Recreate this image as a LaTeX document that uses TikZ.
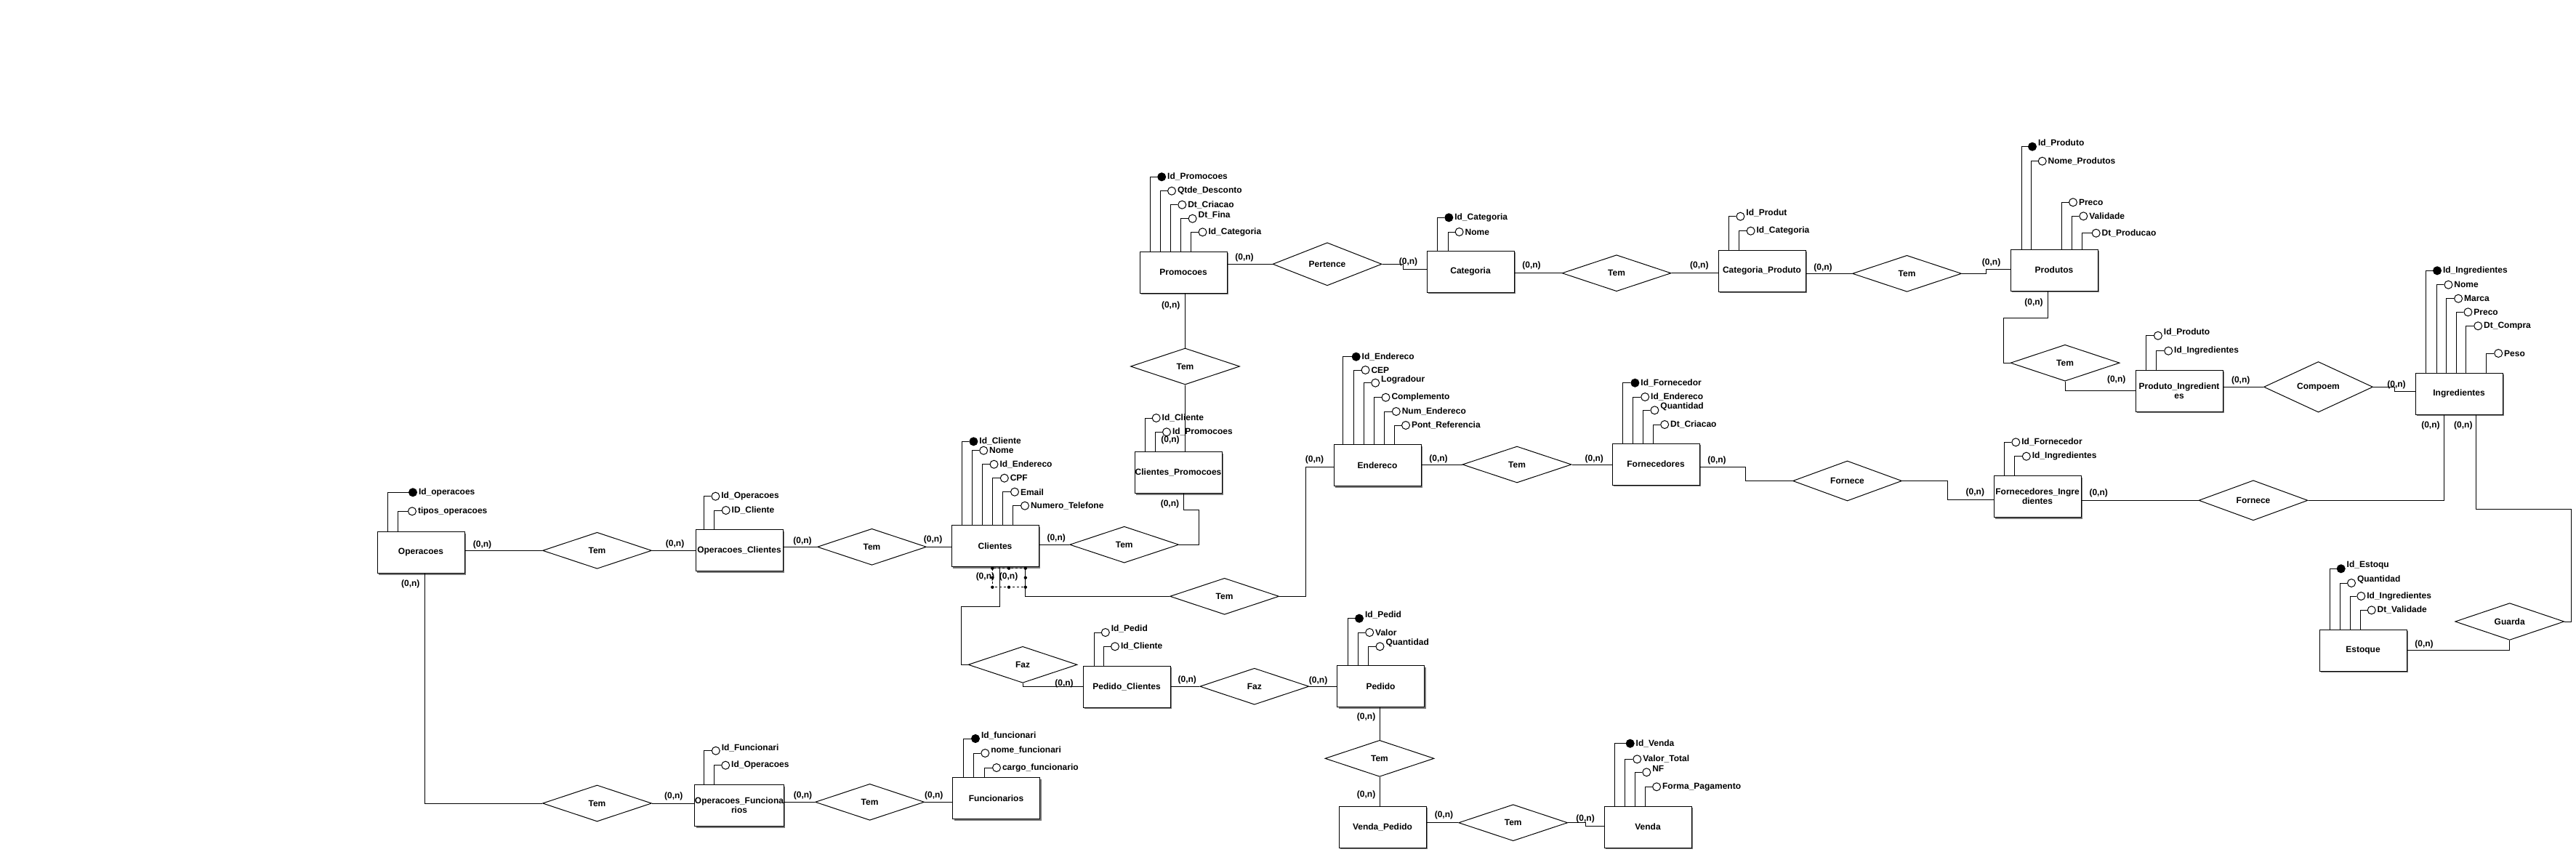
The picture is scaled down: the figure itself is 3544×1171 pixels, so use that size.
\documentclass[tikz,border=0pt]{standalone}
\usepackage{fontspec}
\setmainfont{Liberation Sans}
\usepackage{tikz}
\usetikzlibrary{shapes.geometric,shadows}
\definecolor{sombra}{RGB}{120,120,120}
\newcommand{\fonte}{\fontsize{12}{13}\selectfont\bfseries}
% atributo: [opcoes do rotulo]{estilo}{entidade}{nr}{x linha}{x circulo}{y}{texto}
\newcommand{\atributo}[8][]{%
  \node[#2] (#3#4) at (#6,#7) {};
  \node[rotulo,#1] (#3#4t) at (#3#4.east) {#8};
  \coordinate (#3#4x) at (#5,0);
  \draw (#3#4.west) -| (#3#4x |- #3.north);
}
\tikzset{
  entidade/.style={draw, fill=white, line width=1pt, minimum width=120pt, minimum height=57pt,
    inner sep=0pt, align=center, font=\fonte,
    drop shadow={shadow xshift=2pt, shadow yshift=-2pt, fill=sombra, opacity=1}},
  relacao/.style={diamond, draw, minimum width=150pt, minimum height=50pt, inner sep=0pt, font=\fonte},
  atr/.style={circle, draw, fill=white, minimum size=11pt, inner sep=0pt},
  chave/.style={atr, fill=black},
  rotulo/.style={anchor=west, inner sep=1.5pt, font=\fonte},
  card/.style={inner sep=0pt, font=\fonte}
}

\begin{document}
\begin{tikzpicture}[x=1pt, y=-1pt, line width=1pt]
    % Fundo
    \fill[white] (0,0) rectangle (3544,1171);
    \useasboundingbox (0,0) rectangle (3544,1171);

    % Entidades
    \node[entidade] (operacoes) at (579,760) {Operacoes};
    \node[entidade] (opclientes) at (1017,757) {Operacoes\_Clientes};
    \node[entidade] (opfunc) at (1017,1108) {Operacoes\_Funciona\\rios};
    \node[entidade] (clientes) at (1369,751) {Clientes};
    \node[entidade] (funcionarios) at (1370.5,1098) {Funcionarios};
    \node[entidade] (clprom) at (1621,650) {Clientes\_Promocoes};
    \node[entidade] (promocoes) at (1628,374.5) {Promocoes};
    \node[entidade] (categoria) at (2023,373.5) {Categoria};
    \node[entidade] (catprod) at (2424,372.5) {Categoria\_Produto};
    \node[entidade] (produtos) at (2826,371.5) {Produtos};
    \node[entidade] (prodingr) at (2998,537.5) {Produto\_Ingredient\\es};
    \node[entidade] (ingredientes) at (3383,541.5) {Ingredientes};
    \node[entidade] (endereco) at (1895,640) {Endereco};
    \node[entidade] (fornecedores) at (2278,638.5) {Fornecedores};
    \node[entidade] (forningr) at (2803,683) {Fornecedores\_Ingre\\dientes};
    \node[entidade] (estoque) at (3251,894.5) {Estoque};
    \node[entidade] (pedclientes) at (1550,944.5) {Pedido\_Clientes};
    \node[entidade] (pedido) at (1899.5,944) {Pedido};
    \node[entidade] (vendapedido) at (1902,1137.5) {Venda\_Pedido};
    \node[entidade] (venda) at (2267,1137.5) {Venda};

    % Relacionamentos
    \node[relacao] (tem1) at (821.5,757.3) {Tem};
    \node[relacao] (tem2) at (821.5,1105) {Tem};
    \node[relacao] (tem3) at (1199.5,752.3) {Tem};
    \node[relacao] (tem4) at (1196.6,1103.3) {Tem};
    \node[relacao] (tem5) at (1546.7,749.2) {Tem};
    \node[relacao] (tem6) at (1630.5,504) {Tem};
    \node[relacao] (pertence) at (1826,363.3) {Pertence};
    \node[relacao] (tem7) at (2224,375.7) {Tem};
    \node[relacao] (tem8) at (2623.5,376.3) {Tem};
    \node[relacao] (tem9) at (2841,499.2) {Tem};
    \node[relacao] (compoem) at (3189.5,532.3) {Compoem};
    \node[relacao] (tem10) at (1684.6,820.3) {Tem};
    \node[relacao] (tem11) at (2087,639) {Tem};
    \node[relacao] (fornece1) at (2541.5,661.5) {Fornece};
    \node[relacao] (fornece2) at (3100,688.3) {Fornece};
    \node[relacao] (guarda) at (3452.7,855) {Guarda};
    \node[relacao] (faz1) at (1407,914.3) {Faz};
    \node[relacao] (faz2) at (1725.8,944.2) {Faz};
    \node[relacao] (tem12) at (1898,1043.3) {Tem};
    \node[relacao] (tem13) at (2081.7,1131.7) {Tem};

    % Atributos
    \atributo{chave}{operacoes}{1}{533.6}{568}{677.3}{Id\_operacoes}
    \atributo{atr}{operacoes}{2}{547}{567}{703.3}{tipos\_operacoes}

    \atributo{atr}{opclientes}{1}{968.8}{984.4}{682.7}{Id\_Operacoes}
    \atributo{atr}{opclientes}{2}{982.7}{998.7}{702}{ID\_Cliente}

    \atributo[yshift=4pt]{atr}{opfunc}{1}{968.3}{984.8}{1032.7}{Id\_Funcionari}
    \atributo{atr}{opfunc}{2}{982.6}{998.2}{1052.7}{Id\_Operacoes}

    \atributo[yshift=4pt]{chave}{funcionarios}{1}{1325.4}{1342}{1016}{Id\_funcionari}
    \atributo[yshift=4pt]{atr}{funcionarios}{2}{1339.7}{1355.3}{1036}{nome\_funcionari}
    \atributo{atr}{funcionarios}{3}{1354}{1371}{1056}{cargo\_funcionario}

    \atributo{chave}{clientes}{1}{1323.7}{1339.4}{607.3}{Id\_Cliente}
    \atributo{atr}{clientes}{2}{1337.6}{1353.2}{619.7}{Nome}
    \atributo{atr}{clientes}{3}{1351.4}{1367.5}{638.7}{Id\_Endereco}
    \atributo{atr}{clientes}{4}{1365.3}{1381.8}{657.7}{CPF}
    \atributo{atr}{clientes}{5}{1379.5}{1396}{676.7}{Email}
    \atributo{atr}{clientes}{6}{1393.4}{1410}{695.7}{Numero\_Telefone}

    \atributo{atr}{clprom}{1}{1575.7}{1590.7}{575}{Id\_Cliente}
    \atributo{atr}{clprom}{2}{1589.3}{1605}{594.3}{Id\_Promocoes}

    \atributo{chave}{promocoes}{1}{1582.6}{1598.2}{243.3}{Id\_Promocoes}
    \atributo{atr}{promocoes}{2}{1596.4}{1612}{262.7}{Qtde\_Desconto}
    \atributo{atr}{promocoes}{3}{1610.3}{1626.3}{281.7}{Dt\_Criacao}
    \atributo[yshift=5pt]{atr}{promocoes}{4}{1624.5}{1640.6}{300.7}{Dt\_Fina}
    \atributo{atr}{promocoes}{5}{1638.4}{1654.5}{319.3}{Id\_Categoria}

    \atributo{chave}{categoria}{1}{1977.7}{1993.3}{299.3}{Id\_Categoria}
    \atributo{atr}{categoria}{2}{1992}{2007.6}{319}{Nome}

    \atributo[yshift=5pt]{atr}{catprod}{1}{2378.7}{2394.4}{297.7}{Id\_Produt}
    \atributo{atr}{catprod}{2}{2392}{2408.6}{317.7}{Id\_Categoria}

    \atributo[yshift=5pt]{chave}{produtos}{1}{2781.1}{2796}{201.7}{Id\_Produto}
    \atributo{atr}{produtos}{2}{2794.4}{2809.7}{221.7}{Nome\_Produtos}
    \atributo{atr}{produtos}{3}{2836.7}{2852}{278.3}{Preco}
    \atributo{atr}{produtos}{4}{2850.5}{2866.3}{297.3}{Validade}
    \atributo{atr}{produtos}{5}{2864.3}{2883.7}{320.7}{Dt\_Producao}

    \atributo[yshift=5pt]{atr}{prodingr}{1}{2952.5}{2968.9}{461.7}{Id\_Produto}
    \atributo{atr}{prodingr}{2}{2966.3}{2983.2}{482.7}{Id\_Ingredientes}

    \atributo{chave}{ingredientes}{1}{3337.8}{3353}{372.3}{Id\_Ingredientes}
    \atributo{atr}{ingredientes}{2}{3352}{3368.4}{391.7}{Nome}
    \atributo{atr}{ingredientes}{3}{3365.8}{3382.1}{410.7}{Marca}
    \atributo{atr}{ingredientes}{4}{3379.6}{3395.4}{429.3}{Preco}
    \atributo{atr}{ingredientes}{5}{3392.9}{3409.2}{448.3}{Dt\_Compra}
    \atributo{atr}{ingredientes}{6}{3420.9}{3437.2}{486}{Peso}

    \atributo{chave}{endereco}{1}{1847.9}{1865.7}{490.7}{Id\_Endereco}
    \atributo{atr}{endereco}{2}{1862.1}{1878.5}{509}{CEP}
    \atributo[yshift=4pt]{atr}{endereco}{3}{1876.4}{1892.2}{526.7}{Logradour}
    \atributo{atr}{endereco}{4}{1890.2}{1906.5}{546.7}{Complemento}
    \atributo{atr}{endereco}{5}{1904.5}{1920.8}{566}{Num\_Endereco}
    \atributo{atr}{endereco}{6}{1918.3}{1934}{585}{Pont\_Referencia}

    \atributo{chave}{fornecedores}{1}{2232.5}{2249.4}{526.7}{Id\_Fornecedor}
    \atributo{atr}{fornecedores}{2}{2246.8}{2263.2}{546}{Id\_Endereco}
    \atributo[yshift=5pt]{atr}{fornecedores}{3}{2260.6}{2276.4}{564.3}{Quantidad}
    \atributo{atr}{fornecedores}{4}{2274.9}{2290.2}{584}{Dt\_Criacao}

    \atributo{atr}{forningr}{1}{2757.5}{2773.3}{608.3}{Id\_Fornecedor}
    \atributo{atr}{forningr}{2}{2771.2}{2787.8}{627.7}{Id\_Ingredientes}

    \atributo[yshift=5pt]{chave}{estoque}{1}{3205.3}{3220.7}{782.3}{Id\_Estoqu}
    \atributo[yshift=5pt]{atr}{estoque}{2}{3219}{3235}{802}{Quantidad}
    \atributo{atr}{estoque}{3}{3233}{3248.3}{820}{Id\_Ingredientes}
    \atributo{atr}{estoque}{4}{3247}{3262.7}{839.3}{Dt\_Validade}

    \atributo[yshift=5pt]{atr}{pedclientes}{1}{1505.3}{1520.8}{870}{Id\_Pedid}
    \atributo{atr}{pedclientes}{2}{1518.5}{1534}{889.3}{Id\_Cliente}

    \atributo[yshift=5pt]{chave}{pedido}{1}{1854.3}{1870}{850.7}{Id\_Pedid}
    \atributo{atr}{pedido}{2}{1868.7}{1884.2}{870}{Valor}
    \atributo[yshift=5pt]{atr}{pedido}{3}{1882.5}{1898.5}{889.3}{Quantidad}

    \atributo{chave}{venda}{1}{2221.7}{2242.7}{1022.7}{Id\_Venda}
    \atributo{atr}{venda}{2}{2235.9}{2252.3}{1044.3}{Valor\_Total}
    \atributo[yshift=5pt]{atr}{venda}{3}{2249.3}{2265.3}{1062.3}{NF}
    \atributo{atr}{venda}{4}{2263.8}{2279.1}{1082.3}{Forma\_Pagamento}

    % Pontos de dobra
    \coordinate (p1) at (1930.8,370);
    \coordinate (p2) at (2732,370.7);
    \coordinate (p3) at (2756,437.3);
    \coordinate (p4) at (3294.4,538.3);
    \coordinate (p5) at (1322.8,834.3);
    \coordinate (p6) at (1796,642.3);
    \coordinate (p7) at (2401.4,642.7);
    \coordinate (p8) at (2679.6,687.3);
    \coordinate (p9) at (3537.7,700);
    \coordinate (p10) at (2181.1,1136);
    \coordinate (p11) at (1649.6,701.7);

    % Ligacoes
    \draw (tem1.west -| operacoes.east) -- (tem1.west);
    \draw (tem1.east) -- (tem1.east -| opclientes.west);
    \draw ([xshift=5.5pt]operacoes.south) |- (tem2.west);
    \draw (tem2.east) -- (tem2.east -| opfunc.west);
    \draw (tem3.west -| opclientes.east) -- (tem3.west);
    \draw (tem3.east) -- (tem3.east -| clientes.west);
    \draw (tem4.west -| opfunc.east) -- (tem4.west);
    \draw (tem4.east) -- (tem4.east -| funcionarios.west);
    \draw (tem5.west -| clientes.east) -- (tem5.west);
    \draw (tem5.east) -| (p11) -| ([xshift=7.6pt]clprom.south);
    \draw (tem6.north |- promocoes.south) -- (tem6.north);
    \draw (tem6.south) -- (tem6.south |- clprom.north);
    \draw (pertence.west -| promocoes.east) -- (pertence.west);
    \draw (pertence.east) -| (p1) -- (p1 -| categoria.west);
    \draw (tem7.west -| categoria.east) -- (tem7.west);
    \draw (tem7.east) -- (tem7.east -| catprod.west);
    \draw (tem8.west -| catprod.east) -- (tem8.west);
    \draw (tem8.east) -| (p2) -- (p2 -| produtos.west);
    \draw ([xshift=-8.7pt]produtos.south) |- (p3) |- (tem9.west);
    \draw (tem9.south) |- (prodingr.west);
    \draw (compoem.west -| prodingr.east) -- (compoem.west);
    \draw (compoem.east) -| (p4) -- (p4 -| ingredientes.west);
    \draw ([xshift=6.5pt]clientes.south) |- (p5) |- (faz1.west);
    \draw ([xshift=41.8pt]clientes.south) |- (tem10.west);
    \draw (tem10.east) -| (p6) -- (p6 -| endereco.west);
    \draw (faz1.south) |- (pedclientes.west);
    \draw (faz2.west -| pedclientes.east) -- (faz2.west);
    \draw (faz2.east) -- (faz2.east -| pedido.west);
    \draw (tem12.north |- pedido.south) -- (tem12.north);
    \draw (tem12.south) -- (tem12.south |- vendapedido.north);
    \draw (tem13.west -| vendapedido.east) -- (tem13.west);
    \draw (tem13.east) -| (p10) -- (p10 -| venda.west);
    \draw (tem11.west -| endereco.east) -- (tem11.west);
    \draw (tem11.east) -- (tem11.east -| fornecedores.west);
    \draw (p7 -| fornecedores.east) -- (p7) |- (fornece1.west);
    \draw (fornece1.east) -| (p8) -- (p8 -| forningr.west);
    \draw (fornece2.west -| forningr.east) -- (fornece2.west);
    \draw (fornece2.east) -| ([xshift=-20.8pt]ingredientes.south);
    \draw ([xshift=23.6pt]ingredientes.south) |- (p9) |- (guarda.east);
    \draw (guarda.south) |- (estoque.east);

    % Selecao em Clientes
    \draw[dashed, line width=0.7pt] (1365.3,781.7) rectangle (1410.8,807.7);
    \foreach \x/\y in {1365.3/781.7, 1388/781.7, 1410.8/781.7, 1365.3/807.7, 1388/807.7, 1410.8/807.7, 1365.3/794.7, 1410.8/794.7}
        \fill (\x,\y) circle (2.2);

    % Cardinalidades
    \node[card] (c1) at (663.5,749) {(0,n)};
    \node[card] (c2) at (928.6,748.3) {(0,n)};
    \node[card] (c3) at (1104,744) {(0,n)};
    \node[card] (c4) at (564.8,803.3) {(0,n)};
    \node[card] (c5) at (926.8,1095) {(0,n)};
    \node[card] (c6) at (1104.5,1094.3) {(0,n)};
    \node[card] (c7) at (1284.8,1094) {(0,n)};
    \node[card] (c8) at (1283.6,742.7) {(0,n)};
    \node[card] (c9) at (1453.2,740) {(0,n)};
    \node[card] (c10) at (1609.4,693.3) {(0,n)};
    \node[card] (c11) at (1610,605) {(0,n)};
    \node[card] (c12) at (1712,354) {(0,n)};
    \node[card] (c13) at (1610.7,420) {(0,n)};
    \node[card] (c14) at (1937.5,360) {(0,n)};
    \node[card] (c15) at (2107,365.7) {(0,n)};
    \node[card] (c16) at (2337.8,365.7) {(0,n)};
    \node[card] (c17) at (2508,368.3) {(0,n)};
    \node[card] (c18) at (2739.6,361.7) {(0,n)};
    \node[card] (c19) at (2798,416) {(0,n)};
    \node[card] (c20) at (2911.7,522.7) {(0,n)};
    \node[card] (c21) at (3082.7,523.3) {(0,n)};
    \node[card] (c22) at (3297,529.3) {(0,n)};
    \node[card] (c23) at (3343.9,585) {(0,n)};
    \node[card] (c24) at (3388.8,585) {(0,n)};
    \node[card] (c25) at (1808.5,632.7) {(0,n)};
    \node[card] (c26) at (1979,631) {(0,n)};
    \node[card] (c27) at (2193.3,631.7) {(0,n)};
    \node[card] (c28) at (2362,633.3) {(0,n)};
    \node[card] (c29) at (2717.3,677.7) {(0,n)};
    \node[card] (c30) at (2887.2,678.3) {(0,n)};
    \node[card] (c31) at (3335,886.7) {(0,n)};
    \node[card] (c32) at (1355.4,793.3) {(0,n)};
    \node[card] (c33) at (1387.6,793.3) {(0,n)};
    \node[card] (c34) at (1464,940) {(0,n)};
    \node[card] (c35) at (1633.3,935) {(0,n)};
    \node[card] (c36) at (1813.6,936) {(0,n)};
    \node[card] (c37) at (1879.6,986.7) {(0,n)};
    \node[card] (c38) at (1879.6,1093.3) {(0,n)};
    \node[card] (c39) at (1986.4,1121.7) {(0,n)};
    \node[card] (c40) at (2181.1,1126.7) {(0,n)};
\end{tikzpicture}
\end{document}
